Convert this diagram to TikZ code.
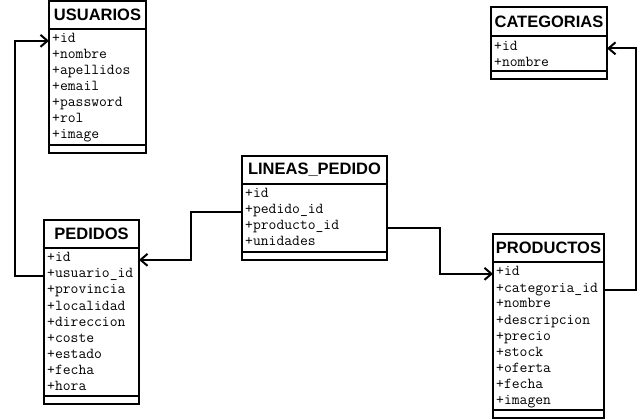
\documentclass[tikz,border=0pt]{standalone}
\usepackage{fontspec}
\setsansfont{Liberation Sans}
\usetikzlibrary{calc}
\usetikzlibrary{positioning}
\usetikzlibrary{arrows.meta}
\begin{document}
\begin{tikzpicture}[x=1pt,y=-1pt,
  caja/.style={draw,line width=2pt,outer sep=0pt,inner sep=0pt,anchor=north west},
  cab/.style={caja,minimum height=28pt,font=\sffamily\bfseries\fontsize{16.5}{18}\selectfont},
  cuerpo/.style={caja},
  pie/.style={caja,minimum height=8pt},
  campo/.style={anchor=base west,inner sep=0pt,font=\ttfamily\fontsize{15.2}{16}\selectfont},
  rel/.style={-{Straight Barb[length=7pt,width=12pt]},line width=2pt}]

\useasboundingbox (0,0) rectangle (639,419);
\fill[white] (0,0) rectangle (639,419);

% USUARIOS
\node[cab,minimum width=97pt] (usuarios) at (49,1) {USUARIOS};
\node[cuerpo,minimum width=97pt,minimum height=116pt,below=0pt of usuarios] (usuarios-cuerpo) {};
\node[pie,minimum width=97pt,below=0pt of usuarios-cuerpo] (usuarios-pie) {};
\foreach \campo [count=\i] in {id,nombre,apellidos,email,password,rol,image}
  \node[campo] (usu-\i) at ($(usuarios-cuerpo.north west)+(3,14+16*\i-16)$) {+\campo};

% CATEGORIAS
\node[cab,minimum width=116pt,minimum height=29.5pt] (categorias) at (491,7) {CATEGORIAS};
\node[cuerpo,minimum width=116pt,minimum height=34.5pt,below=0pt of categorias] (categorias-cuerpo) {};
\node[pie,minimum width=116pt,below=0pt of categorias-cuerpo] (categorias-pie) {};
\foreach \campo [count=\i] in {id,nombre}
  \node[campo] (cat-\i) at ($(categorias-cuerpo.north west)+(3,14+16*\i-16)$) {+\campo};

% LINEAS_PEDIDO
\node[cab,minimum width=145pt] (lineas) at (242,156) {LINEAS\_PEDIDO};
\node[cuerpo,minimum width=145pt,minimum height=68pt,below=0pt of lineas] (lineas-cuerpo) {};
\node[pie,minimum width=145pt,below=0pt of lineas-cuerpo] (lineas-pie) {};
\foreach \campo [count=\i] in {id,pedido\_id,producto\_id,unidades}
  \node[campo] (lin-\i) at ($(lineas-cuerpo.north west)+(3,14+16*\i-16)$) {+\campo};

% PEDIDOS
\node[cab,minimum width=95pt] (pedidos) at (44,220) {PEDIDOS};
\node[cuerpo,minimum width=95pt,minimum height=148pt,below=0pt of pedidos] (pedidos-cuerpo) {};
\node[pie,minimum width=95pt,below=0pt of pedidos-cuerpo] (pedidos-pie) {};
\foreach \campo [count=\i] in {id,usuario\_id,provincia,localidad,direccion,coste,estado,fecha,hora}
  \node[campo] (ped-\i) at ($(pedidos-cuerpo.north west)+(3,14+16*\i-16)$) {+\campo};

% PRODUCTOS
\node[cab,minimum width=111pt] (productos) at (493,234) {PRODUCTOS};
\node[cuerpo,minimum width=111pt,minimum height=148pt,below=0pt of productos] (productos-cuerpo) {};
\node[pie,minimum width=111pt,below=0pt of productos-cuerpo] (productos-pie) {};
\foreach \campo [count=\i] in {id,categoria\_id,nombre,descripcion,precio,stock,oferta,fecha,imagen}
  \node[campo] (pro-\i) at ($(productos-cuerpo.north west)+(3,14+16*\i-16)$) {+\campo};

% relaciones
\draw[rel] (ped-2.mid -| pedidos.west) -- ++(-29,0) |- (usu-1.mid -| usuarios.west);
\draw[rel] (lin-2.mid -| lineas.west) -- ++(-51,0) |- (ped-1.mid -| pedidos.east);
\draw[rel] (lin-3.mid -| lineas.east) -- ++(53,0) |- (pro-1.mid -| productos.west);
\draw[rel] (pro-2.mid -| productos.east) -- ++(32,0) |- (cat-1.mid -| categorias.east);
\end{tikzpicture}
\end{document}
